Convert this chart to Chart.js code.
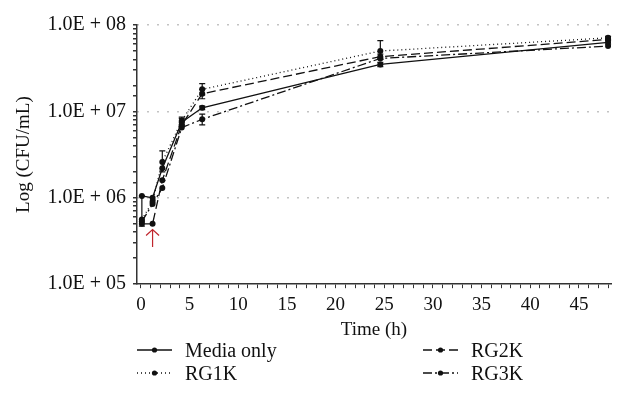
<!DOCTYPE html>
<html>
<head>
<meta charset="utf-8">
<script src="https://cdn.jsdelivr.net/npm/chart.js@4"></script>
<style>
  body { margin: 0; background: #fff; }
  #wrap { position: relative; width: 627px; height: 413px; }
  #legend { position: absolute; left: 0; top: 0; width: 627px; height: 413px; pointer-events: none;
            font-family: "Liberation Serif", "DejaVu Serif", serif; font-size: 20px; color: #111; }
  .item { position: absolute; display: flex; align-items: center; height: 20px; }
  .item span { margin-left: 13px; }
</style>
</head>
<body>
<div id="wrap">
  <canvas id="myChart" width="627" height="413"></canvas>
  <div id="legend"></div>
</div>
<script>
"use strict";

// time points (h) as plotted
let times = [0.1, 1.2, 2.2, 4.2, 6.3, 24.6, 48];

let seriesNames = ['Media only', 'RG1K', 'RG2K', 'RG3K'];

let mediaOnly = [1.05e6, 1.0e6, 2.2e6, 7.5e6, 1.1e7, 3.5e7, 6.3e7];
let rg1k = [5.6e5, 9.0e5, 2.6e6, 7.8e6, 1.8e7, 5.0e7, 7.1e7];
let rg2k = [5.0e5, 5.0e5, 1.6e6, 7.0e6, 1.6e7, 4.3e7, 6.8e7];
let rg3k = [5.3e5, 8.5e5, 1.3e6, 6.5e6, 8.1e6, 4.1e7, 5.7e7];

// error bar ends
let mediaLow  = [4.7e5, null, null, 6.8e6, 1.05e7, 3.3e7, 6.0e7];
let mediaHigh = [1.05e6, null, null, 8.3e6, 1.15e7, 3.7e7, 6.6e7];
let rg1kLow  = [null, null, 2.0e6, 7.0e6, 1.55e7, 4.0e7, 6.8e7];
let rg1kHigh = [null, null, 3.5e6, 8.6e6, 2.1e7, 6.6e7, 7.4e7];
let rg2kLow  = [null, null, null, null, 1.4e7, 4.0e7, null];
let rg2kHigh = [null, null, null, null, 1.8e7, 4.6e7, null];
let rg3kLow  = [null, null, null, null, 7.0e6, null, null];
let rg3kHigh = [null, null, null, null, 9.3e6, null, null];

let xTicks = [0, 5, 10, 15, 20, 25, 30, 35, 40, 45];

let dashes = [[], [1, 3], [9, 4], [9, 3, 2, 3]];

const serif = "'Liberation Serif', 'DejaVu Serif', serif";

function makeSet(i, values, low, high){
    return {
        label: seriesNames[i],
        data: times.map((t, k) => ({x: t, y: values[k]})),
        errLow: low,
        errHigh: high,
        borderColor: '#111',
        backgroundColor: '#111',
        borderWidth: 1.3,
        borderDash: dashes[i],
        pointRadius: 3,
        pointBorderWidth: 0,
        tension: 0
    };
}

const errorBars = {
    id: 'errorBars',
    afterDatasetsDraw(chart){
        let ctx = chart.ctx;
        let xs = chart.scales.x, ys = chart.scales.y;
        ctx.save();
        ctx.strokeStyle = '#111';
        ctx.lineWidth = 1.2;
        chart.data.datasets.forEach(ds => {
            for (let k = 0; k < times.length; k++){
                if (ds.errLow[k] == null) continue;
                let px = xs.getPixelForValue(times[k]);
                let y1 = ys.getPixelForValue(ds.errLow[k]);
                let y2 = ys.getPixelForValue(ds.errHigh[k]);
                ctx.beginPath();
                ctx.moveTo(px, y1); ctx.lineTo(px, y2);
                ctx.moveTo(px - 3, y1); ctx.lineTo(px + 3, y1);
                ctx.moveTo(px - 3, y2); ctx.lineTo(px + 3, y2);
                ctx.stroke();
            }
        });
        // red arrow under the 1 h point
        let ax = xs.getPixelForValue(times[1]);
        let top = ys.getPixelForValue(4.3e5);
        let bot = ys.getPixelForValue(2.7e5);
        ctx.strokeStyle = '#c0262d';
        ctx.lineWidth = 1.2;
        ctx.beginPath();
        ctx.moveTo(ax, bot); ctx.lineTo(ax, top);
        ctx.moveTo(ax - 6.5, top + 6); ctx.lineTo(ax, top); ctx.lineTo(ax + 6.5, top + 6);
        ctx.stroke();
        ctx.restore();
    }
};

const ctx = document.getElementById('myChart').getContext('2d');
const myChart = new Chart(ctx, {
    type: 'line',
    data: {
        datasets: [
            makeSet(0, mediaOnly, mediaLow, mediaHigh),
            makeSet(1, rg1k, rg1kLow, rg1kHigh),
            makeSet(2, rg2k, rg2kLow, rg2kHigh),
            makeSet(3, rg3k, rg3kLow, rg3kHigh)
        ]
    },
    options: {
        responsive: false,
        animation: false,
        layout: { padding: { left: 13, right: 16, top: 25, bottom: 69 } },
        plugins: {
            legend: { display: false },
            tooltip: { enabled: false }
        },
        scales: {
            x: {
                type: 'linear',
                min: -0.4,
                max: 48.3,
                border: { color: '#333', width: 1.5 },
                grid: { color: 'rgba(0,0,0,0)', tickColor: '#333', tickLength: 4, drawOnChartArea: false },
                ticks: {
                    stepSize: 1,
                    includeBounds: false,
                    autoSkip: false,
                    maxRotation: 0,
                    color: '#111',
                    font: { family: serif, size: 19 },
                    padding: 5,
                    callback: v => xTicks.includes(v) ? String(v) : ''
                },
                title: { display: true, text: 'Time (h)', color: '#111', font: { family: serif, size: 19, lineHeight: 1 }, padding: { top: 0, bottom: 4 } }
            },
            y: {
                type: 'logarithmic',
                min: 1e5,
                max: 1e8,
                afterFit: scale => { scale.width = 124; },
                border: { color: '#333', width: 1.5, dash: [1, 9] },
                grid: {
                    color: c => {
                        let v = c.tick ? c.tick.value : 0;
                        let e = Math.log10(v);
                        return (Math.abs(e - Math.round(e)) < 1e-9 && v > 1e5) ? '#888' : 'rgba(0,0,0,0)';
                    },
                    lineWidth: 1.5,
                    tickColor: '#333',
                    tickLength: 4,
                    tickBorderDash: []
                },
                ticks: {
                    autoSkip: false,
                    color: '#111',
                    font: { family: serif, size: 20 },
                    padding: 7,
                    callback: v => {
                        let e = Math.log10(v);
                        if (Math.abs(e - Math.round(e)) > 1e-9) return '';
                        let n = String(Math.round(e)).padStart(2, '0');
                        return '1.0E + ' + n;
                    }
                },
                title: { display: true, text: 'Log (CFU/mL)', color: '#111', font: { family: serif, size: 19 }, padding: { top: 0, bottom: 0 } }
            }
        }
    },
    plugins: [errorBars]
});

// legend in two columns
let legendSpots = [[137, 340], [137, 363], [423, 340], [423, 363]];
let legendBox = document.getElementById('legend');
for (let i = 0; i < seriesNames.length; i++){
    let item = document.createElement('div');
    item.className = 'item';
    item.style.left = legendSpots[i][0] + 'px';
    item.style.top = legendSpots[i][1] + 'px';
    let dash = dashes[i].length ? dashes[i].join(' ') : 'none';
    item.innerHTML =
        '<svg width="35" height="20"><line x1="0" y1="10" x2="35" y2="10" stroke="#111" stroke-width="1.3" stroke-dasharray="' + dash + '"/>' +
        '<circle cx="17.5" cy="10" r="2.6" fill="#111"/></svg><span>' + seriesNames[i] + '</span>';
    legendBox.append(item);
}
</script>
</body>
</html>
